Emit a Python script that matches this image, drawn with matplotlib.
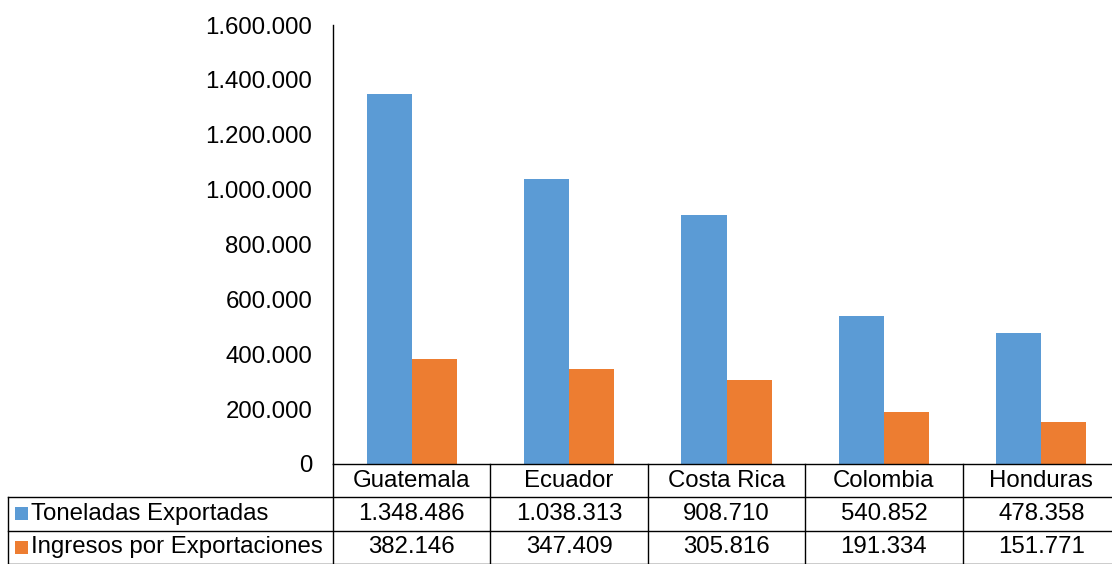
import matplotlib.pyplot as plt
import numpy as np
from matplotlib.patches import Rectangle
from matplotlib.ticker import FuncFormatter
from matplotlib.transforms import blended_transform_factory

plt.rcParams['font.family'] = ['Liberation Sans', 'DejaVu Sans']

countries = ['Guatemala', 'Ecuador', 'Costa Rica', 'Colombia', 'Honduras']
toneladas = [1348486, 1038313, 908710, 540852, 478358]
ingresos = [382146, 347409, 305816, 191334, 151771]
series_names = ['Toneladas Exportadas', 'Ingresos por Exportaciones']
colors = ['#5B9BD5', '#ED7D31']
y_ticks = [0, 200000, 400000, 600000, 800000, 1000000, 1200000, 1400000, 1600000]

def fmt(v):
    return f"{v:,.0f}".replace(',', '.')

W, H = 1112, 564
fig = plt.figure(figsize=(W / 100, H / 100), dpi=100)
ax_left, ax_right, ax_bot, ax_top = 333, 1120, 464, 25
ax = fig.add_axes([ax_left / W, (H - ax_bot) / H, (ax_right - ax_left) / W, (ax_bot - ax_top) / H])

x = np.arange(len(countries))
w = 0.286
ax.bar(x - w / 2, toneladas, w, color=colors[0])
ax.bar(x + w / 2, ingresos, w, color=colors[1])

fs = 17.3
ax.set_xlim(-0.5, len(countries) - 0.5)
ax.set_ylim(0, 1600000)
ax.set_yticks(y_ticks)
ax.yaxis.set_major_formatter(FuncFormatter(lambda v, p: fmt(v)))
ax.tick_params(axis='y', length=0, pad=15, labelsize=fs)
ax.set_xticks([])
for s in ['top', 'right', 'bottom']:
    ax.spines[s].set_visible(False)
ax.spines['left'].set_linewidth(1.0)

# data table below the axes
axh = ax_bot - ax_top
axw = ax_right - ax_left
row_h = 33.3 / axh
trans = blended_transform_factory(ax.transData, ax.transAxes)
left_edge = (8 - ax_left) / axw
kw = dict(color='black', lw=1.0, clip_on=False)

# horizontal lines
ax.plot([0, 1], [0, 0], transform=ax.transAxes, **kw)
for r in range(1, 4):
    ax.plot([left_edge, 1], [-r * row_h, -r * row_h], transform=ax.transAxes, **kw)
# vertical lines
for i in range(len(countries) + 1):
    ax.plot([i - 0.5, i - 0.5], [0, -3 * row_h], transform=trans, **kw)
ax.plot([left_edge, left_edge], [-row_h, -3 * row_h], transform=ax.transAxes, **kw)

for i, c in enumerate(countries):
    ax.text(i, -0.5 * row_h, c, transform=trans, ha='center', va='center', fontsize=fs)
    ax.text(i, -1.5 * row_h, fmt(toneladas[i]), transform=trans, ha='center', va='center', fontsize=fs)
    ax.text(i, -2.5 * row_h, fmt(ingresos[i]), transform=trans, ha='center', va='center', fontsize=fs)

sq = 13 / axw
sqh = 13 / axh
for r, (name, col) in enumerate(zip(series_names, colors)):
    yc = -(1.5 + r) * row_h
    ax.add_patch(Rectangle(((15 - ax_left) / axw, yc - sqh / 2), sq, sqh, transform=ax.transAxes,
                           facecolor=col, edgecolor='none', clip_on=False))
    ax.text((31 - ax_left) / axw, yc, name, transform=ax.transAxes, ha='left', va='center', fontsize=fs)

fig.savefig('out.png', dpi=100)
